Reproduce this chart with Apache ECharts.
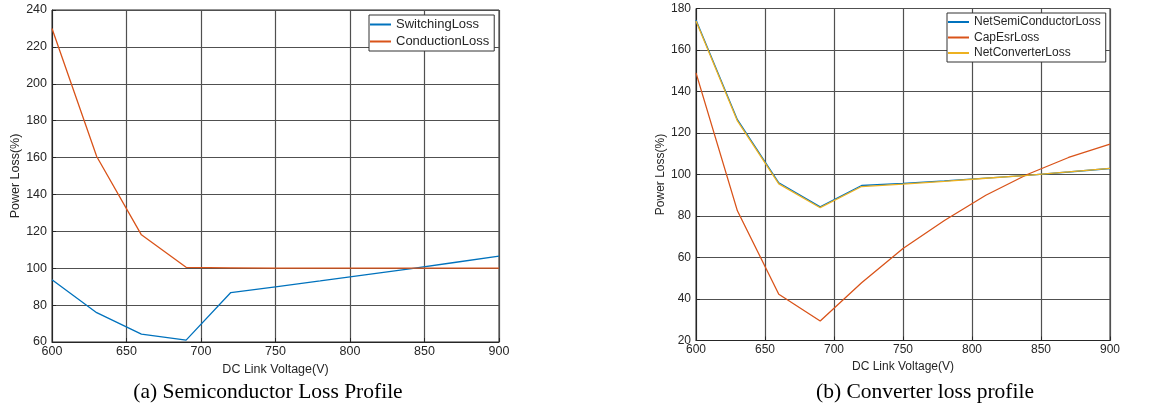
<!DOCTYPE html>
<html>
<head>
<meta charset="utf-8">
<script src="https://cdn.jsdelivr.net/npm/echarts@6/dist/echarts.min.js"></script>
<style>
html,body{margin:0;padding:0;background:#fff;}
#c{width:1164px;height:414px;}
</style>
</head>
<body>
<div id="c"></div>
<script>
// ---- data ----
const voltage = [600, 630, 660, 690, 720, 750, 780, 810, 840, 870, 900];
// (a) Semiconductor loss profile
const switchingLoss  = [93.7, 75.9, 64.3, 61.0, 86.8, 89.9, 93.1, 96.4, 99.7, 103.1, 106.6];
const conductionLoss = [230, 160.6, 118.1, 100.5, 100.2, 100, 100, 100, 100, 100, 100];
// (b) Converter loss profile
const netSemiLoss      = [174.5, 126.4, 96.0, 84.4, 94.7, 95.7, 96.9, 98.3, 99.6, 101.2, 102.9];
const capEsrLoss       = [149.0, 82.5, 42.3, 29.4, 47.8, 64.3, 77.8, 90.0, 100.0, 108.2, 114.6];
const netConverterLoss = [174.0, 125.8, 95.5, 84.0, 94.2, 95.4, 96.7, 98.2, 99.6, 101.3, 103.0];

const xTicks = {min: 600, max: 900, interval: 50};
const yTicksA = {min: 60, max: 240, interval: 20};
const yTicksB = {min: 20, max: 180, interval: 20};

const captionA = '(a) Semiconductor Loss Profile';
const captionB = '(b) Converter loss profile';

const C_BLUE = '#0072BD', C_ORANGE = '#D95319', C_YELLOW = '#EDB120';
const FONT = "'Liberation Sans', Arial, Helvetica, sans-serif";

function pair(xs, ys){ return xs.map((x,i)=>[x, ys[i]]); }

function xAx(idx, fs){
  return {
    type:'value', gridIndex: idx, min:xTicks.min, max:xTicks.max, interval:xTicks.interval,
    name:'DC Link Voltage(V)', nameLocation:'middle', nameGap:17,
    nameTextStyle:{fontFamily:FONT, fontSize:fs, color:'#262626'},
    axisLine:{show:true, onZero:false, lineStyle:{color:'#262626', width:1}},
    axisTick:{show:true, inside:true, length:4, lineStyle:{color:'#262626'}},
    axisLabel:{fontFamily:FONT, fontSize:fs, color:'#262626', margin:3},
    splitLine:{show:true, lineStyle:{color:'#505050', width:1.2}}
  };
}
function yAx(idx, t, fs, gap){
  return {
    type:'value', gridIndex: idx, min:t.min, max:t.max, interval:t.interval,
    name:'Power Loss(%)', nameLocation:'middle', nameGap:gap, nameRotate:90,
    nameTextStyle:{fontFamily:FONT, fontSize:fs, color:'#262626'},
    axisLine:{show:true, lineStyle:{color:'#262626', width:1}},
    axisTick:{show:true, inside:true, length:4, lineStyle:{color:'#262626'}},
    axisLabel:{fontFamily:FONT, fontSize:fs, color:'#262626', margin:5},
    splitLine:{show:true, lineStyle:{color:'#505050', width:1.2}}
  };
}
function line(name, data, color, xi){
  return {
    name, type:'line', xAxisIndex:xi, yAxisIndex:xi, data, showSymbol:false, symbol:'none',
    lineStyle:{color, width:1.3}, itemStyle:{color}, animation:false
  };
}
function legend(names, left, top, fs, gap){
  return {
    orient:'vertical', left, top, data:names, icon:'rect', itemWidth:21, itemHeight:2,
    itemGap:gap, padding:[3,5,3,1], backgroundColor:'#fff', borderColor:'#333', borderWidth:1,
    textStyle:{fontFamily:FONT, fontSize:fs, color:'#262626'}
  };
}

const chart = echarts.init(document.getElementById('c'), null, {renderer:'canvas'});
chart.setOption({
  animation:false,
  backgroundColor:'#fff',
  grid:[
    {left:52, top:10, width:447, height:332, show:true, borderColor:'#262626', borderWidth:1, backgroundColor:'transparent'},
    {left:696, top:8.5, width:414, height:332, show:true, borderColor:'#262626', borderWidth:1, backgroundColor:'transparent'}
  ],
  xAxis:[xAx(0,12.5), xAx(1,12)],
  yAxis:[yAx(0,yTicksA,12.5,29), yAx(1,yTicksB,12,26)],
  legend:[
    legend(['SwitchingLoss','ConductionLoss'], 369, 15, 13, 4),
    legend(['NetSemiConductorLoss','CapEsrLoss','NetConverterLoss'], 947, 13, 12, 3.5)
  ],
  series:[
    line('SwitchingLoss', pair(voltage, switchingLoss), C_BLUE, 0),
    line('ConductionLoss', pair(voltage, conductionLoss), C_ORANGE, 0),
    line('NetSemiConductorLoss', pair(voltage, netSemiLoss), C_BLUE, 1),
    line('CapEsrLoss', pair(voltage, capEsrLoss), C_ORANGE, 1),
    line('NetConverterLoss', pair(voltage, netConverterLoss), C_YELLOW, 1)
  ],
  graphic:[
    {type:'text', x:268, y:392, style:{text:captionA, fontFamily:"'Liberation Serif','Times New Roman',serif", fontSize:21.5, fill:'#000', textAlign:'center', textVerticalAlign:'middle'}},
    {type:'text', x:925, y:392, style:{text:captionB, fontFamily:"'Liberation Serif','Times New Roman',serif", fontSize:21.5, fill:'#000', textAlign:'center', textVerticalAlign:'middle'}}
  ]
});
</script>
</body>
</html>
